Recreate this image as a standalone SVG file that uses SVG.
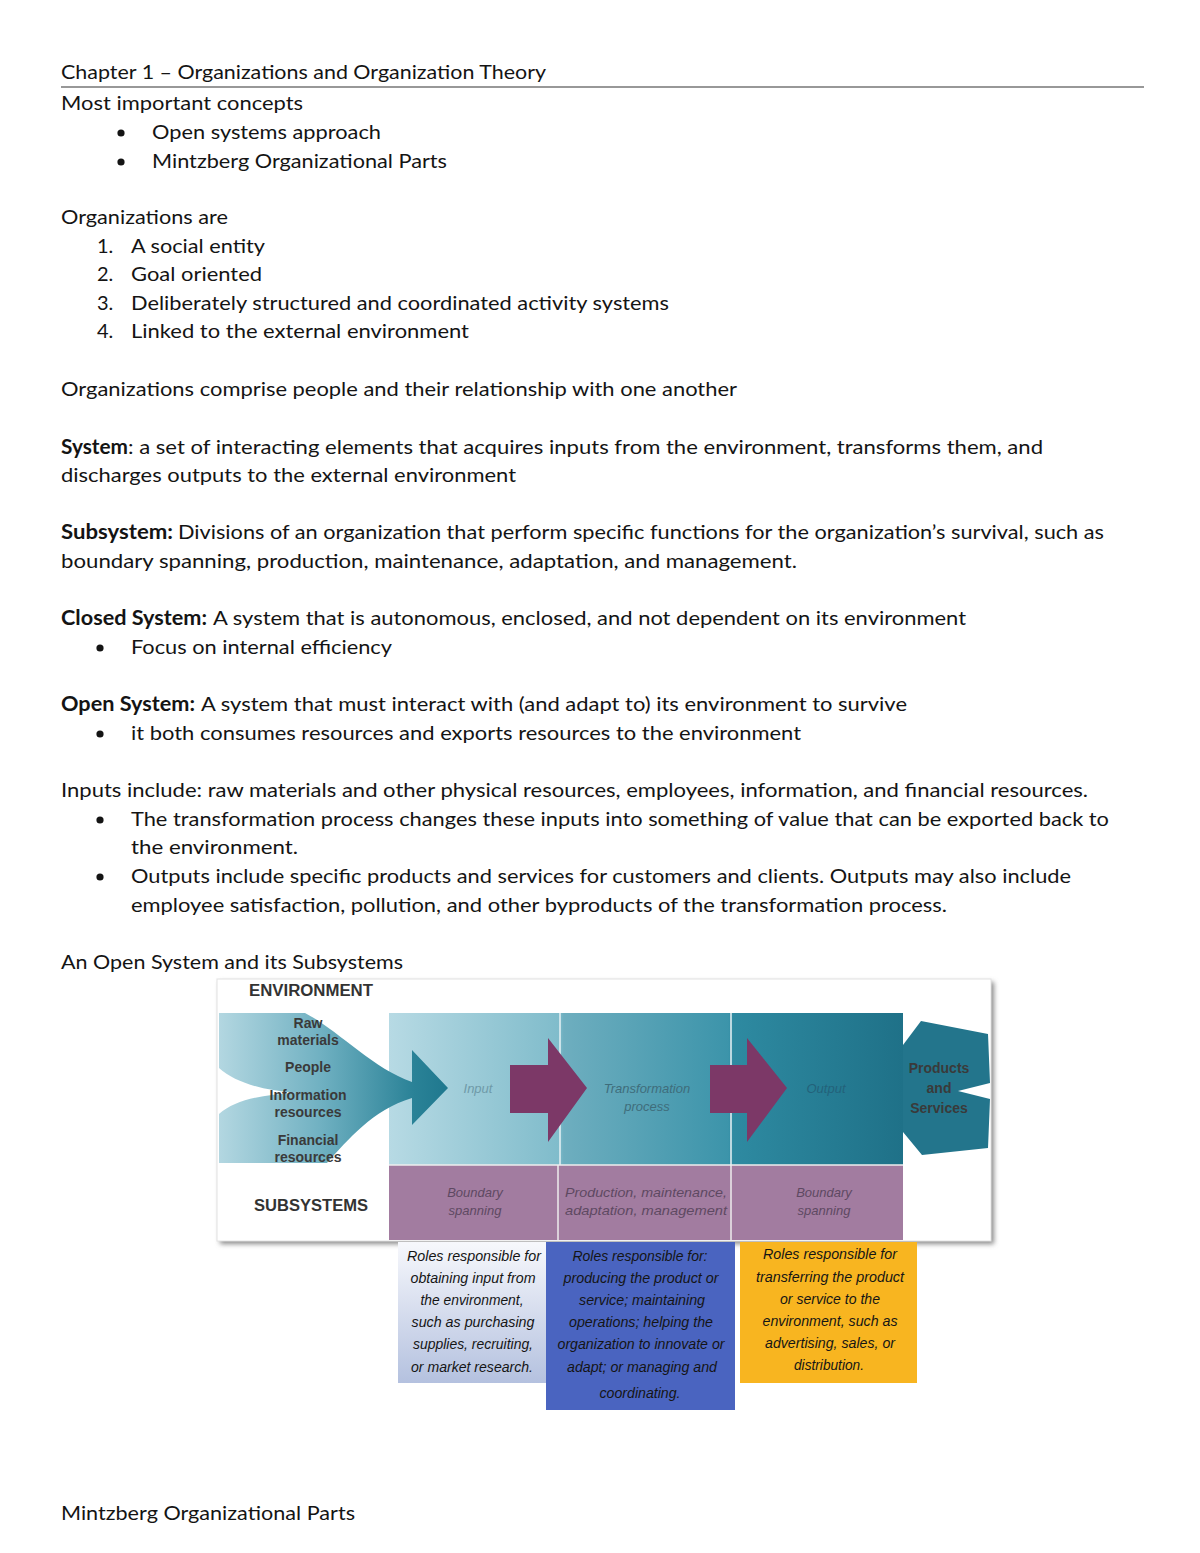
<svg xmlns="http://www.w3.org/2000/svg" width="1200" height="1553" viewBox="0 0 1200 1553">
<style>
.b{font-family:Lato,"Liberation Sans",sans-serif;font-size:20px;fill:#141414}
.bb{font-family:Lato,"Liberation Sans",sans-serif;font-size:20px;font-weight:bold;fill:#141414}
.lab{font-family:"Liberation Sans",Arial,sans-serif;font-weight:bold;font-size:14px;fill:#3a3a3a;text-anchor:middle}
.hd{font-family:"Liberation Sans",Arial,sans-serif;font-weight:bold;font-size:16px;fill:#333}
.it{font-family:"Liberation Sans",Arial,sans-serif;font-style:italic;font-size:13px;text-anchor:middle}
.bx{font-family:"Liberation Sans",Arial,sans-serif;font-style:italic;font-size:15px;fill:#151515;text-anchor:middle}
.dot{fill:#141414}
.mag{fill:#7c3867}
</style>
<defs>
<linearGradient id="panel" gradientUnits="userSpaceOnUse" x1="389" y1="0" x2="903" y2="0">
<stop offset="0" stop-color="#b7dae4"/><stop offset="0.33" stop-color="#80bccb"/><stop offset="0.34" stop-color="#6eaebf"/><stop offset="0.66" stop-color="#3c94aa"/><stop offset="0.67" stop-color="#2e8aa1"/><stop offset="1" stop-color="#1f7188"/>
</linearGradient>
<linearGradient id="funnel" gradientUnits="userSpaceOnUse" x1="219" y1="0" x2="448" y2="0">
<stop offset="0" stop-color="#b3d7e1"/><stop offset="0.45" stop-color="#6fb0c1"/><stop offset="0.85" stop-color="#2a8297"/><stop offset="1" stop-color="#1f788e"/>
</linearGradient>
<linearGradient id="box1" x1="0" y1="0" x2="0" y2="1">
<stop offset="0" stop-color="#f7f8fc"/><stop offset="1" stop-color="#b4c1df"/>
</linearGradient>
<filter id="sh" x="-5%" y="-5%" width="110%" height="115%">
<feGaussianBlur stdDeviation="2.5"/>
</filter>
</defs>
<rect width="1200" height="1553" fill="#fff"/>

<g id="text-body">
<text class="b" x="61" y="79" textLength="485" lengthAdjust="spacingAndGlyphs">Chapter 1 – Organizations and Organization Theory</text>
<line x1="61" y1="87" x2="1144" y2="87" stroke="#333" stroke-width="1.2"/>
<text class="b" x="61" y="110" textLength="242" lengthAdjust="spacingAndGlyphs">Most important concepts</text>
<circle class="dot" cx="121" cy="133" r="3.6"/>
<text class="b" x="152" y="139" textLength="229" lengthAdjust="spacingAndGlyphs">Open systems approach</text>
<circle class="dot" cx="121" cy="162" r="3.6"/>
<text class="b" x="152" y="168" textLength="295" lengthAdjust="spacingAndGlyphs">Mintzberg Organizational Parts</text>
<text class="b" x="61" y="224" textLength="167" lengthAdjust="spacingAndGlyphs">Organizations are</text>
<text class="b" x="97" y="253">1.</text>
<text class="b" x="131" y="253" textLength="134" lengthAdjust="spacingAndGlyphs">A social entity</text>
<text class="b" x="97" y="281">2.</text>
<text class="b" x="131" y="281" textLength="131" lengthAdjust="spacingAndGlyphs">Goal oriented</text>
<text class="b" x="97" y="310">3.</text>
<text class="b" x="131" y="310" textLength="538" lengthAdjust="spacingAndGlyphs">Deliberately structured and coordinated activity systems</text>
<text class="b" x="97" y="338">4.</text>
<text class="b" x="131" y="338" textLength="338" lengthAdjust="spacingAndGlyphs">Linked to the external environment</text>
<text class="b" x="61" y="396" textLength="676" lengthAdjust="spacingAndGlyphs">Organizations comprise people and their relationship with one another</text>
<text class="bb" x="61" y="454" textLength="67" lengthAdjust="spacingAndGlyphs">System</text>
<text class="b" x="128" y="454" textLength="915" lengthAdjust="spacingAndGlyphs">: a set of interacting elements that acquires inputs from the environment, transforms them, and</text>
<text class="b" x="61" y="482" textLength="455" lengthAdjust="spacingAndGlyphs">discharges outputs to the external environment</text>
<text class="bb" x="61" y="539" textLength="112" lengthAdjust="spacingAndGlyphs">Subsystem:</text>
<text class="b" x="178" y="539" textLength="926" lengthAdjust="spacingAndGlyphs">Divisions of an organization that perform specific functions for the organization’s survival, such as</text>
<text class="b" x="61" y="568" textLength="736" lengthAdjust="spacingAndGlyphs">boundary spanning, production, maintenance, adaptation, and management.</text>
<text class="bb" x="61" y="625" textLength="146" lengthAdjust="spacingAndGlyphs">Closed System:</text>
<text class="b" x="213" y="625" textLength="753" lengthAdjust="spacingAndGlyphs">A system that is autonomous, enclosed, and not dependent on its environment</text>
<circle class="dot" cx="100" cy="648" r="3.6"/>
<text class="b" x="131" y="654" textLength="261" lengthAdjust="spacingAndGlyphs">Focus on internal efficiency</text>
<text class="bb" x="61" y="711" textLength="134" lengthAdjust="spacingAndGlyphs">Open System:</text>
<text class="b" x="201" y="711" textLength="706" lengthAdjust="spacingAndGlyphs">A system that must interact with (and adapt to) its environment to survive</text>
<circle class="dot" cx="100" cy="734" r="3.6"/>
<text class="b" x="131" y="740" textLength="670" lengthAdjust="spacingAndGlyphs">it both consumes resources and exports resources to the environment</text>
<text class="b" x="61" y="797" textLength="1027" lengthAdjust="spacingAndGlyphs">Inputs include: raw materials and other physical resources, employees, information, and financial resources.</text>
<circle class="dot" cx="100" cy="820" r="3.6"/>
<text class="b" x="131" y="826" textLength="978" lengthAdjust="spacingAndGlyphs">The transformation process changes these inputs into something of value that can be exported back to</text>
<text class="b" x="131" y="854" textLength="167" lengthAdjust="spacingAndGlyphs">the environment.</text>
<circle class="dot" cx="100" cy="877" r="3.6"/>
<text class="b" x="131" y="883" textLength="940" lengthAdjust="spacingAndGlyphs">Outputs include specific products and services for customers and clients. Outputs may also include</text>
<text class="b" x="131" y="912" textLength="816" lengthAdjust="spacingAndGlyphs">employee satisfaction, pollution, and other byproducts of the transformation process.</text>
<text class="b" x="61" y="969" textLength="342" lengthAdjust="spacingAndGlyphs">An Open System and its Subsystems</text>
<text class="b" x="61" y="1520" textLength="294" lengthAdjust="spacingAndGlyphs">Mintzberg Organizational Parts</text>
</g>

<g id="figure-frame">
<rect x="220" y="982" width="774" height="262" fill="#8a8a8a" filter="url(#sh)"/>
<rect x="217" y="979" width="774" height="262" fill="#fff" stroke="#e2e2e2" stroke-width="1"/>
<text class="hd" x="249" y="996" textLength="124" lengthAdjust="spacingAndGlyphs">ENVIRONMENT</text>
<text class="hd" x="311" y="1211" text-anchor="middle" textLength="114" lengthAdjust="spacingAndGlyphs">SUBSYSTEMS</text>
</g>

<g id="panel">
<rect x="389" y="1013" width="514" height="152" fill="url(#panel)"/>
<rect x="389" y="1165" width="514" height="75" fill="#a27ca0"/>
<line x1="560" y1="1013" x2="560" y2="1165" stroke="#e8f2f5" stroke-width="1.5"/>
<line x1="731" y1="1013" x2="731" y2="1165" stroke="#e8f2f5" stroke-width="1.5"/>
<line x1="389" y1="1165" x2="903" y2="1165" stroke="#eee" stroke-width="1.5"/>
<line x1="558" y1="1165" x2="558" y2="1240" stroke="#eee" stroke-width="1.5"/>
<line x1="731" y1="1165" x2="731" y2="1240" stroke="#eee" stroke-width="1.5"/>
</g>

<g id="inputs">
<path d="M219,1013 L305,1013 C338,1030 372,1068 412,1082 L412,1050 L448,1088 L412,1125 L412,1098 C372,1110 348,1140 327,1163 L219,1163 L219,1114 C235,1100 260,1095 296,1093 C260,1090 235,1082 219,1068 Z" fill="url(#funnel)"/>
<text class="lab" x="308" y="1028">Raw</text>
<text class="lab" x="308" y="1045">materials</text>
<text class="lab" x="308" y="1072">People</text>
<text class="lab" x="308" y="1100">Information</text>
<text class="lab" x="308" y="1117">resources</text>
<text class="lab" x="308" y="1145">Financial</text>
<text class="lab" x="308" y="1162">resources</text>
</g>

<g id="input-node">
<text class="it" x="478" y="1093" fill="#6f9aa8">Input</text>
<text class="it" x="475" y="1197" fill="#5e4962">Boundary</text>
<text class="it" x="475" y="1215" fill="#5e4962">spanning</text>
</g>
<g id="transformation-node">
<text class="it" x="647" y="1093" fill="#3f6d7b">Transformation</text>
<text class="it" x="647" y="1111" fill="#3f6d7b">process</text>
<text class="it" x="646" y="1197" fill="#5e4962" textLength="162" lengthAdjust="spacingAndGlyphs">Production, maintenance,</text>
<text class="it" x="646" y="1215" fill="#5e4962" textLength="162" lengthAdjust="spacingAndGlyphs">adaptation, management</text>
</g>
<g id="output-node">
<text class="it" x="826" y="1093" fill="#23627a">Output</text>
<text class="it" x="824" y="1197" fill="#5e4962">Boundary</text>
<text class="it" x="824" y="1215" fill="#5e4962">spanning</text>
</g>

<g id="connectors">
<path class="mag" d="M510,1065 L548,1065 L548,1038 L587,1088 L548,1142 L548,1113 L510,1113 Z"/>
<path class="mag" d="M710,1065 L747,1065 L747,1038 L787,1088 L747,1142 L747,1113 L710,1113 Z"/>
</g>

<g id="products">
<path d="M903,1045 L921,1021 L988,1034 L990,1083 L958,1091 L990,1099 L988,1148 L922,1155 L903,1132 Z" fill="#23758c"/>
<text class="lab" x="939" y="1073" fill="#1b2833">Products</text>
<text class="lab" x="939" y="1093" fill="#1b2833">and</text>
<text class="lab" x="939" y="1113" fill="#1b2833">Services</text>
</g>

<g id="box-boundary-input">
<rect x="398" y="1242" width="148" height="141" fill="url(#box1)"/>
<text class="bx" x="474" y="1261" textLength="134" lengthAdjust="spacingAndGlyphs">Roles responsible for</text>
<text class="bx" x="473" y="1283" textLength="125" lengthAdjust="spacingAndGlyphs">obtaining input from</text>
<text class="bx" x="472" y="1305" textLength="103" lengthAdjust="spacingAndGlyphs">the environment,</text>
<text class="bx" x="473" y="1327" textLength="123" lengthAdjust="spacingAndGlyphs">such as purchasing</text>
<text class="bx" x="473" y="1349" textLength="120" lengthAdjust="spacingAndGlyphs">supplies, recruiting,</text>
<text class="bx" x="472" y="1372" textLength="122" lengthAdjust="spacingAndGlyphs">or market research.</text>
</g>

<g id="box-production">
<rect x="546" y="1242" width="189" height="168" fill="#4a64c0"/>
<text class="bx" x="640" y="1261" textLength="135" lengthAdjust="spacingAndGlyphs">Roles responsible for:</text>
<text class="bx" x="641" y="1283" textLength="155" lengthAdjust="spacingAndGlyphs">producing the product or</text>
<text class="bx" x="642" y="1305" textLength="126" lengthAdjust="spacingAndGlyphs">service; maintaining</text>
<text class="bx" x="641" y="1327" textLength="144" lengthAdjust="spacingAndGlyphs">operations; helping the</text>
<text class="bx" x="641" y="1349" textLength="167" lengthAdjust="spacingAndGlyphs">organization to innovate or</text>
<text class="bx" x="642" y="1372" textLength="150" lengthAdjust="spacingAndGlyphs">adapt; or managing and</text>
<text class="bx" x="640" y="1398" textLength="81" lengthAdjust="spacingAndGlyphs">coordinating.</text>
</g>

<g id="box-boundary-output">
<rect x="740" y="1242" width="177" height="141" fill="#f8b520"/>
<text class="bx" x="830" y="1259" textLength="134" lengthAdjust="spacingAndGlyphs">Roles responsible for</text>
<text class="bx" x="830" y="1282" textLength="148" lengthAdjust="spacingAndGlyphs">transferring the product</text>
<text class="bx" x="830" y="1304" textLength="100" lengthAdjust="spacingAndGlyphs">or service to the</text>
<text class="bx" x="830" y="1326" textLength="135" lengthAdjust="spacingAndGlyphs">environment, such as</text>
<text class="bx" x="830" y="1348" textLength="130" lengthAdjust="spacingAndGlyphs">advertising, sales, or</text>
<text class="bx" x="829" y="1370" textLength="70" lengthAdjust="spacingAndGlyphs">distribution.</text>
</g>
</svg>
